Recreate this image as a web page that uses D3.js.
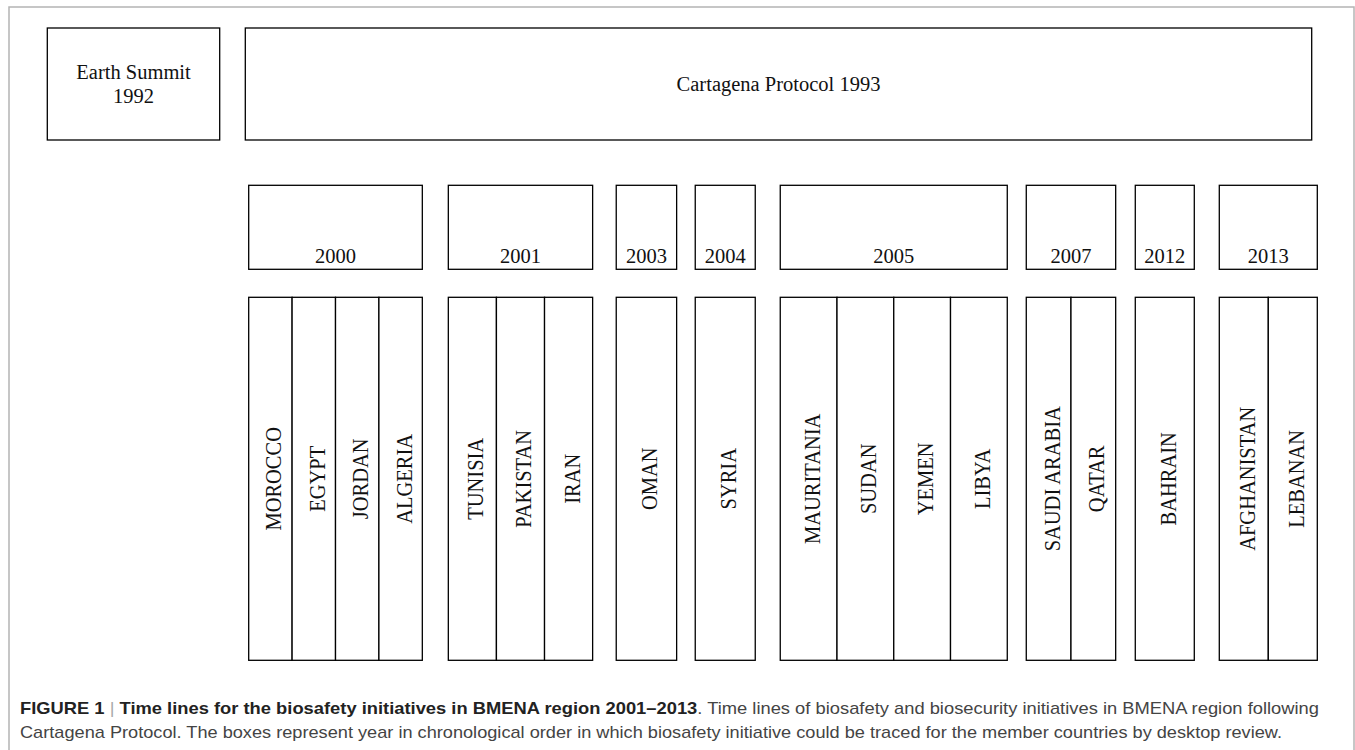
<!DOCTYPE html>
<html>
<head>
<meta charset="utf-8">
<script src="https://cdn.jsdelivr.net/npm/d3@7"></script>
<style>
  body { margin: 0; background: #fff; }
  svg { display: block; }
</style>
</head>
<body>
<div id="chart"></div>
<script>
// Data
const topEvents = [
    { lines: ["Earth Summit", "1992"] },
    { lines: ["Cartagena Protocol 1993"] }
];
const years = ["2000", "2001", "2003", "2004", "2005", "2007", "2012", "2013"];
const countries = [
    ["MOROCCO", "EGYPT", "JORDAN", "ALGERIA"],
    ["TUNISIA", "PAKISTAN", "IRAN"],
    ["OMAN"],
    ["SYRIA"],
    ["MAURITANIA", "SUDAN", "YEMEN", "LIBYA"],
    ["SAUDI ARABIA", "QATAR"],
    ["BAHRAIN"],
    ["AFGHANISTAN", "LEBANAN"]
];
// column width used in each year group, and gap after each group (layout units)
const colWidth = [43.4, 48.1, 60.4, 60, 56.75, 44.7, 59, 49];
const groupGaps = [26, 23.6, 18.6, 25, 19, 19.6, 25, 0];

const captionBold = "Time lines for the biosafety initiatives in BMENA region 2001\u20132013";
const captionRest1 = ". Time lines of biosafety and biosecurity initiatives in BMENA region following";
const captionLine2 = "Cartagena Protocol. The boxes represent year in chronological order in which biosafety initiative could be traced for the member countries by desktop review.";

// Dimensions
const width = 1355, height = 750;
const serif = "'Liberation Serif', 'Times New Roman', serif";
const sans = "'Liberation Sans', Arial, Helvetica, sans-serif";

const svg = d3.select("#chart")
    .append("svg")
    .attr("width", width)
    .attr("height", height);

// Outer frame
svg.append("rect")
    .attr("x", 9)
    .attr("y", 7)
    .attr("width", 1345)
    .attr("height", 800)
    .attr("fill", "none")
    .attr("stroke", "#b4b4b4")
    .attr("stroke-width", 1.5);

// Build group extents in layout units, then map through a linear scale
const groups = [];
let cursor = 0;
years.forEach((y, i) => {
    const w = colWidth[i] * countries[i].length;
    groups.push({ year: y, start: cursor, end: cursor + w, cols: countries[i], colW: colWidth[i] });
    cursor += w + groupGaps[i];
});
const totalUnits = cursor;

const x = d3.scaleLinear()
    .domain([0, totalUnits])
    .range([248.7, 1317.3]);

const rows = {
    top: [28, 140],
    year: [185.3, 269.3],
    country: [297.3, 660.3]
};

const boxStroke = "#000";
const sw = 1.3;

// Top row boxes
const topBoxes = [
    { ...topEvents[0], x0: 47.3, x1: 219.7 },
    { ...topEvents[1], x0: 245.3, x1: 1311.7 }
];
const topG = svg.selectAll(".top-box")
    .data(topBoxes)
    .enter()
    .append("g")
    .attr("class", "top-box");

topG.append("rect")
    .attr("x", d => d.x0)
    .attr("y", rows.top[0])
    .attr("width", d => d.x1 - d.x0)
    .attr("height", rows.top[1] - rows.top[0])
    .attr("fill", "#fff")
    .attr("stroke", boxStroke)
    .attr("stroke-width", sw);

topG.each(function(d) {
    const cy = (rows.top[0] + rows.top[1]) / 2;
    const lh = 23.5;
    const n = d.lines.length;
    d3.select(this).selectAll("text")
        .data(d.lines)
        .enter()
        .append("text")
        .attr("x", (d.x0 + d.x1) / 2)
        .attr("y", (t, i) => cy + 7 + (i - (n - 1) / 2) * lh)
        .attr("text-anchor", "middle")
        .style("font-family", serif)
        .style("font-size", "20.5px")
        .style("fill", "#111")
        .text(t => t);
});

// Year boxes
const yearG = svg.selectAll(".year-box")
    .data(groups)
    .enter()
    .append("g")
    .attr("class", "year-box");

yearG.append("rect")
    .attr("x", d => x(d.start))
    .attr("y", rows.year[0])
    .attr("width", d => x(d.end) - x(d.start))
    .attr("height", rows.year[1] - rows.year[0])
    .attr("fill", "#fff")
    .attr("stroke", boxStroke)
    .attr("stroke-width", sw);

yearG.append("text")
    .attr("x", d => (x(d.start) + x(d.end)) / 2)
    .attr("y", rows.year[1] - 6)
    .attr("text-anchor", "middle")
    .style("font-family", serif)
    .style("font-size", "20.5px")
    .style("fill", "#111")
    .text(d => d.year);

// Country columns
const cells = [];
groups.forEach(g => {
    g.cols.forEach((c, j) => {
        cells.push({ name: c, u0: g.start + j * g.colW, u1: g.start + (j + 1) * g.colW });
    });
});

const cellG = svg.selectAll(".country")
    .data(cells)
    .enter()
    .append("g")
    .attr("class", "country");

cellG.append("rect")
    .attr("x", d => x(d.u0))
    .attr("y", rows.country[0])
    .attr("width", d => x(d.u1) - x(d.u0))
    .attr("height", rows.country[1] - rows.country[0])
    .attr("fill", "#fff")
    .attr("stroke", boxStroke)
    .attr("stroke-width", sw);

const midY = (rows.country[0] + rows.country[1]) / 2;
cellG.append("text")
    .attr("transform", d => `translate(${(x(d.u0) + x(d.u1)) / 2 + 11},${midY}) rotate(-90) scale(1,1.1)`)
    .attr("text-anchor", "middle")
    .style("font-family", serif)
    .style("font-size", "20.5px")
    .style("fill", "#111")
    .text(d => d.name);

// Caption
const cap1 = svg.append("text")
    .attr("x", 20)
    .attr("y", 714)
    .attr("textLength", 1299)
    .attr("lengthAdjust", "spacingAndGlyphs")
    .style("font-family", sans)
    .style("font-size", "17px")
    .style("fill", "#444");

cap1.append("tspan").style("font-weight", "bold").style("fill", "#222").text("FIGURE 1 ");
cap1.append("tspan").style("fill", "#aaa").style("font-weight", "300").text("|");
cap1.append("tspan").style("font-weight", "bold").style("fill", "#222").text(" " + captionBold);
cap1.append("tspan").text(captionRest1);

svg.append("text")
    .attr("x", 20)
    .attr("y", 738)
    .attr("textLength", 1262)
    .attr("lengthAdjust", "spacingAndGlyphs")
    .style("font-family", sans)
    .style("font-size", "17px")
    .style("fill", "#444")
    .text(captionLine2);
</script>
</body>
</html>
